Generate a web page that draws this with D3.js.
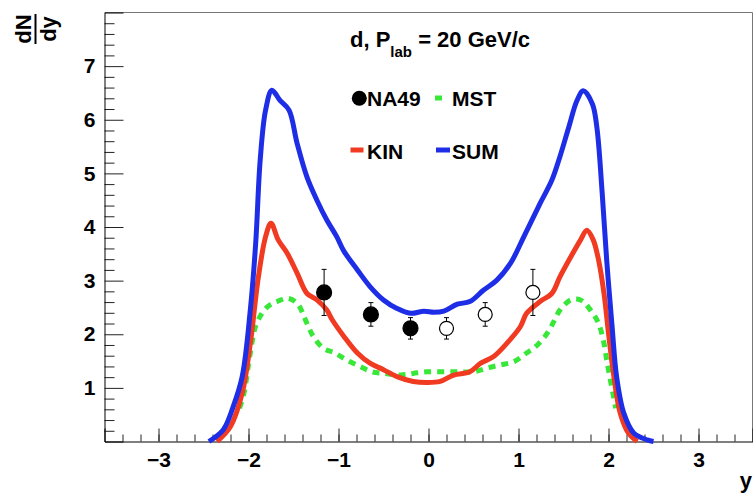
<!DOCTYPE html>
<html>
<head>
<meta charset="utf-8">
<script src="https://cdn.jsdelivr.net/npm/d3@7"></script>
<style>
  html, body { margin: 0; padding: 0; background: #fff; }
  svg { display: block; }
  text { font-family: "Liberation Sans", Arial, Helvetica, sans-serif; font-weight: bold; fill: #000; }
</style>
</head>
<body>
<svg id="chart" width="753" height="494"></svg>
<script>
// Rapidity distribution of deuterons, d, P_lab = 20 GeV/c
const xTicks = [-3, -2, -1, 0, 1, 2, 3];
const yTicks = [1, 2, 3, 4, 5, 6, 7];

// NA49 measurements (filled) and reflected points (open)
const na49Y    = [-1.16, -0.64, -0.20];
const na49Val  = [2.78, 2.37, 2.11];
const na49Err  = [0.43, 0.22, 0.20];
const reflY    = [0.20, 0.63, 1.16];
const reflVal  = [2.11, 2.37, 2.78];
const reflErr  = [0.20, 0.22, 0.43];

// SUM
const sumY = [-2.44, -2.28, -2.17, -2.07, -1.98, -1.92, -1.87, -1.81, -1.74, -1.65, -1.55, -1.46, -1.35, -1.24, -1.13, -1.02, -0.94, -0.79, -0.65, -0.50, -0.35, -0.20, -0.05, 0.06, 0.17, 0.32, 0.46, 0.61, 0.76, 0.91, 1.06, 1.24, 1.37, 1.46, 1.56, 1.65, 1.72, 1.82, 1.87, 1.93, 1.98, 2.04, 2.09, 2.17, 2.28, 2.43, 2.50];
const sumVal = [0.00, 0.22, 0.65, 1.21, 2.45, 3.70, 5.25, 6.18, 6.55, 6.36, 6.18, 5.56, 4.93, 4.50, 4.13, 3.82, 3.55, 3.20, 2.89, 2.64, 2.48, 2.39, 2.43, 2.41, 2.43, 2.56, 2.61, 2.82, 3.01, 3.32, 3.82, 4.44, 4.87, 5.31, 5.87, 6.36, 6.54, 6.30, 5.87, 4.63, 3.38, 2.14, 1.21, 0.53, 0.16, 0.03, 0.00];

// KIN
const kinY = [-2.35, -2.20, -2.07, -1.98, -1.89, -1.81, -1.75, -1.67, -1.57, -1.46, -1.35, -1.24, -1.13, -1.07, -0.94, -0.79, -0.65, -0.50, -0.35, -0.17, -0.02, 0.13, 0.28, 0.46, 0.58, 0.72, 0.87, 1.02, 1.09, 1.24, 1.37, 1.46, 1.58, 1.69, 1.76, 1.83, 1.89, 1.95, 2.00, 2.06, 2.13, 2.22, 2.32];
const kinVal = [0.00, 0.28, 0.90, 1.83, 3.07, 3.82, 4.07, 3.76, 3.51, 3.14, 2.76, 2.64, 2.45, 2.27, 1.96, 1.65, 1.46, 1.34, 1.21, 1.12, 1.10, 1.12, 1.24, 1.30, 1.46, 1.58, 1.83, 2.14, 2.39, 2.61, 2.76, 3.07, 3.44, 3.76, 3.94, 3.76, 3.38, 2.76, 2.02, 1.21, 0.53, 0.16, 0.00];

// MST
const mstY = [-2.10, -2.05, -1.98, -1.91, -1.79, -1.68, -1.57, -1.46, -1.35, -1.28, -1.17, -1.04, -0.91, -0.76, -0.63, -0.50, -0.31, -0.17, -0.02, 0.17, 0.35, 0.50, 0.65, 0.80, 0.95, 1.09, 1.21, 1.32, 1.39, 1.46, 1.58, 1.69, 1.80, 1.89, 1.95, 1.98, 2.02, 2.06, 2.08];
const mstVal = [0.62, 0.90, 1.65, 2.20, 2.51, 2.61, 2.67, 2.58, 2.20, 1.96, 1.74, 1.65, 1.52, 1.40, 1.30, 1.27, 1.24, 1.27, 1.30, 1.30, 1.30, 1.30, 1.37, 1.43, 1.49, 1.65, 1.80, 2.02, 2.23, 2.45, 2.64, 2.64, 2.45, 2.20, 1.83, 1.52, 1.15, 0.80, 0.62];

const colSum = "#1e2ee6", colKin = "#f03a22", colMst = "#38e838";

const svg = d3.select("#chart");
const frameL = 104.5, frameR = 752.5, frameT = 12.5, frameB = 441.5;

const x = d3.scaleLinear().domain([-3.6, 3.6]).range([frameL, frameR]);
const y = d3.scaleLinear().domain([0, 8]).range([frameB, frameT]);

// frame
svg.append("line").attr("x1", frameL).attr("x2", frameR).attr("y1", frameT).attr("y2", frameT)
  .attr("stroke", "#777").attr("stroke-width", 1);
svg.append("line").attr("x1", frameR).attr("x2", frameR).attr("y1", frameT).attr("y2", frameB)
  .attr("stroke", "#777").attr("stroke-width", 1);

// x axis: ticks point inward (up)
const xMinor = d3.range(-3.6, 3.61, 0.2).map(v => +v.toFixed(1)).filter(v => v > -3.6 && v < 3.6);
const xAxisMinor = d3.axisBottom(x).tickValues(xMinor).tickSize(-7).tickFormat("");
const xAxisMajor = d3.axisBottom(x).tickValues(xTicks).tickSize(-13).tickPadding(10)
  .tickFormat(d => d < 0 ? "\u2212" + Math.abs(d) : String(d));
const gxm = svg.append("g").attr("transform", `translate(0,${frameB})`).call(xAxisMinor);
gxm.select(".domain").remove();
const gx = svg.append("g").attr("transform", `translate(0,${frameB})`).call(xAxisMajor);
gx.selectAll("text").attr("font-size", 21).attr("dy", null).attr("y", 25)
  .attr("font-family", "Liberation Sans, Arial, sans-serif").attr("font-weight", "bold");

// y axis: ticks point inward (right)
const yMinor = d3.range(0.2, 8, 0.2).map(v => +v.toFixed(1)).filter(v => Math.abs(v - Math.round(v)) > 1e-6);
const yAxisMinor = d3.axisLeft(y).tickValues(yMinor).tickSize(-10).tickFormat("");
const yAxisMajor = d3.axisLeft(y).tickValues(yTicks).tickSize(-19).tickPadding(9);
const gym = svg.append("g").attr("transform", `translate(${frameL},0)`).call(yAxisMinor);
gym.select(".domain").remove();
const gy = svg.append("g").attr("transform", `translate(${frameL},0)`).call(yAxisMajor);
gy.selectAll("text").attr("font-size", 21).attr("x", -9)
  .attr("font-family", "Liberation Sans, Arial, sans-serif").attr("font-weight", "bold");
svg.selectAll(".tick line").attr("stroke", "#222");
svg.selectAll(".domain").attr("stroke", "#000");

// axis titles
svg.append("text").attr("x", 752).attr("y", 488).attr("text-anchor", "end")
  .attr("font-size", 22).text("y");
const yt = svg.append("g").attr("transform", "translate(35.5,29) rotate(-90)");
yt.append("text").attr("x", 0).attr("y", -5).attr("text-anchor", "middle").attr("font-size", 22).text("dN");
yt.append("line").attr("x1", -15).attr("x2", 15).attr("y1", 0).attr("y2", 0)
  .attr("stroke", "#000").attr("stroke-width", 2);
yt.append("text").attr("x", 0).attr("y", 20).attr("text-anchor", "middle").attr("font-size", 22).text("dy");

// curves
const line = d3.line().x(d => x(d[0])).y(d => y(d[1])).curve(d3.curveCatmullRom.alpha(0.5));
const plot = (xs, vs, color, dash) => {
  svg.append("path").datum(d3.zip(xs, vs)).attr("d", line)
    .attr("fill", "none").attr("stroke", color).attr("stroke-width", 5)
    .attr("stroke-linejoin", "round")
    .attr("stroke-dasharray", dash || null);
};
plot(mstY, mstVal, colMst, "7,6");
plot(kinY, kinVal, colKin);
plot(sumY, sumVal, colSum);

// data points with error bars
const points = (xs, vs, es, filled) => {
  const g = svg.append("g");
  xs.forEach((xv, i) => {
    const cx = x(xv), lo = y(vs[i] - es[i]), hi = y(vs[i] + es[i]);
    g.append("line").attr("x1", cx).attr("x2", cx).attr("y1", lo).attr("y2", hi)
      .attr("stroke", "#000").attr("stroke-width", 1);
    [lo, hi].forEach(v => g.append("line").attr("x1", cx - 2.5).attr("x2", cx + 2.5)
      .attr("y1", v).attr("y2", v).attr("stroke", "#000").attr("stroke-width", 1));
    g.append("circle").attr("cx", cx).attr("cy", y(vs[i])).attr("r", filled ? 7.5 : 7)
      .attr("fill", filled ? "#000" : "#fff").attr("stroke", "#000").attr("stroke-width", 1.2);
  });
};
points(na49Y, na49Val, na49Err, true);
points(reflY, reflVal, reflErr, false);

// title
const title = svg.append("text").attr("x", 350).attr("y", 47).attr("font-size", 22);
title.append("tspan").text("d, P");
title.append("tspan").attr("font-size", 15).attr("dy", 10).text("lab");
title.append("tspan").attr("dy", -10).text(" = 20 GeV/c");

// legend
const lg = svg.append("g");
lg.append("circle").attr("cx", 359.3).attr("cy", 98.3).attr("r", 7.5).attr("fill", "#000");
lg.append("text").attr("x", 367).attr("y", 106).attr("font-size", 21).text("NA49");
lg.append("line").attr("x1", 435).attr("x2", 442).attr("y1", 98).attr("y2", 98)
  .attr("stroke", colMst).attr("stroke-width", 5);
lg.append("text").attr("x", 452).attr("y", 106).attr("font-size", 21).text("MST");
lg.append("line").attr("x1", 350.5).attr("x2", 363.5).attr("y1", 150).attr("y2", 150)
  .attr("stroke", colKin).attr("stroke-width", 5);
lg.append("text").attr("x", 367).attr("y", 158.5).attr("font-size", 21).text("KIN");
lg.append("line").attr("x1", 436).attr("x2", 450).attr("y1", 150).attr("y2", 150)
  .attr("stroke", colSum).attr("stroke-width", 5);
lg.append("text").attr("x", 452).attr("y", 158.5).attr("font-size", 21).text("SUM");
</script>
</body>
</html>
